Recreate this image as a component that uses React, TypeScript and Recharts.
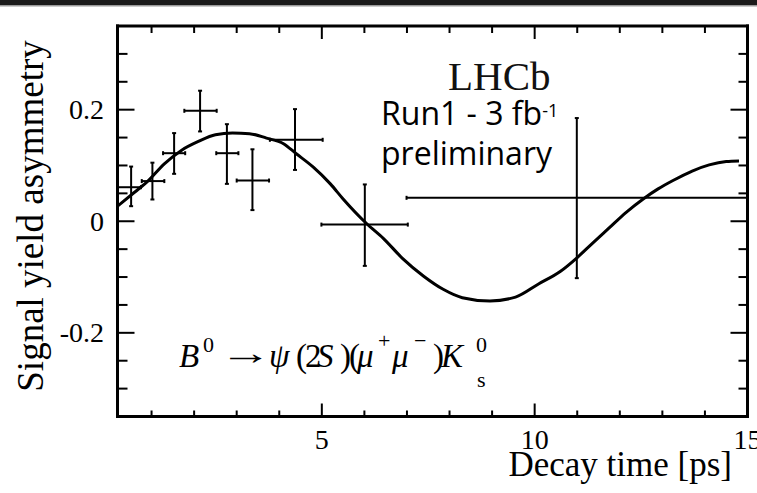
import React from 'react';
import { ComposedChart, Line, Scatter, ErrorBar, XAxis, YAxis, Customized } from 'recharts';

// binned asymmetry points
const pointT = [0.52, 1.02, 1.53, 2.14, 2.77, 3.37, 4.37, 6.01, 10.99];
const pointV = [0.061, 0.072, 0.122, 0.198, 0.122, 0.073, 0.146, -0.006, 0.042];
const pointTErr = [[0.32, 0.23], [0.25, 0.28], [0.26, 0.26], [0.37, 0.39], [0.25, 0.27], [0.37, 0.39], [0.59, 0.65], [1.02, 1.01], [4.0, 4.01]];
const pointVErr = [[0.034, 0.037], [0.033, 0.033], [0.037, 0.036], [0.037, 0.036], [0.055, 0.052], [0.053, 0.056], [0.054, 0.055], [0.074, 0.072], [0.144, 0.143]];

// fitted curve
const curveT = [0.2, 0.6, 0.9, 1.3, 1.7, 2.1, 2.5, 2.9, 3.3, 3.7, 4.1, 4.4, 4.8, 5.2, 5.5, 6.05, 6.45, 6.9, 7.4, 7.85, 8.3, 8.95, 9.55, 10.1, 10.6, 11.0, 11.35, 11.75, 12.15, 12.55, 12.9, 13.25, 13.7, 14.1, 14.5, 14.8];
const curveV = [0.027, 0.052, 0.071, 0.103, 0.127, 0.143, 0.155, 0.158, 0.157, 0.149, 0.139, 0.121, 0.097, 0.067, 0.04, -0.004, -0.031, -0.067, -0.099, -0.122, -0.137, -0.143, -0.136, -0.112, -0.09, -0.065, -0.04, -0.012, 0.016, 0.04, 0.058, 0.073, 0.09, 0.101, 0.107, 0.108];

const xTicks = [1, 2, 3, 4, 5, 6, 7, 8, 9, 10, 11, 12, 13, 14, 15];
const xMajor = [5, 10, 15];
const yTicks = [-0.3, -0.25, -0.2, -0.15, -0.1, -0.05, 0, 0.05, 0.1, 0.15, 0.2, 0.25, 0.3];
const yMajor = [-0.2, 0, 0.2];

const points = pointT.map((t, i) => ({ t, v: pointV[i], te: pointTErr[i], ve: pointVErr[i] }));
const curve = curveT.map((t, i) => ({ t, v: curveV[i] }));

const W = 757;
const H = 493;
const MARGIN = { top: 26, right: 9.5, bottom: 0, left: 0 };
const PLOT_TOP = MARGIN.top;
const PLOT_RIGHT = W - MARGIN.right;

const X_DOMAIN: [number, number] = [0.2, 15];
const Y_DOMAIN: [number, number] = [-0.35, 0.35];
const SERIF = '"Liberation Serif", "Times New Roman", serif';
const SANS = '"Open Sans", sans-serif';
const frame = { stroke: '#000', strokeWidth: 3, strokeLinecap: 'square' as const };

const isMajor = (list: number[], v: number) => list.some((m) => Math.abs(m - v) < 1e-9);

// bottom axis tick: draws inward ticks at bottom and top, plus the label
const XTick = ({ x, y, payload }: any) => {
  const major = isMajor(xMajor, payload.value);
  return (
    <g>
      <line x1={x} x2={x} y1={y} y2={y - (major ? 13 : 6)} stroke="#000" strokeWidth={2} />
      <line x1={x} x2={x} y1={PLOT_TOP} y2={PLOT_TOP + (major ? 13 : 7)} stroke="#000" strokeWidth={2} />
      {major && (
        <text x={x} y={y + 32} textAnchor="middle" fontSize={28} fontFamily={SERIF} fill="#000">
          {payload.value}
        </text>
      )}
    </g>
  );
};

// left axis tick: draws inward ticks at left and right, plus the label
const YTick = ({ x, y, payload }: any) => {
  const major = isMajor(yMajor, payload.value);
  return (
    <g>
      <line x1={x} x2={x + (major ? 17 : 10)} y1={y} y2={y} stroke="#000" strokeWidth={2} />
      <line x1={PLOT_RIGHT} x2={PLOT_RIGHT - (major ? 17 : 9)} y1={y} y2={y} stroke="#000" strokeWidth={2} />
      {major && (
        <text x={x - 13.5} y={y + 9.5} textAnchor="end" fontSize={28} fontFamily={SERIF} fill="#000">
          {Math.abs(payload.value) < 1e-9 ? '0' : payload.value.toFixed(1)}
        </text>
      )}
    </g>
  );
};

const Overlay = () => (
  <g>
    <rect x={0} y={0} width={W} height={5} fill="#1b1b1b" />
    <rect x={0} y={5} width={W} height={1.5} fill="#9a9a9a" />
    <text x={448} y={90} fontFamily={SERIF} fontSize={41} fill="#111">LHCb</text>
    <text x={381} y={125} fontFamily={SANS} fontSize={32} fill="#000">
      Run1 - 3 fb<tspan fontSize={18} dy={-8}>-1</tspan>
    </text>
    <text x={381} y={165} fontFamily={SANS} fontSize={32} fill="#000">preliminary</text>
    <text fontFamily={SERIF} fontSize={33} fill="#000">
      <tspan x={179} y={367} fontStyle="italic">B</tspan>
      <tspan x={203} y={352} fontSize={22}>0</tspan>
      <tspan x={269} y={367} fontStyle="italic">ψ</tspan>
      <tspan x={296} y={367}>(</tspan>
      <tspan x={305} y={367}>2</tspan>
      <tspan x={317} y={367} fontStyle="italic">S</tspan>
      <tspan x={340} y={367}>)</tspan>
      <tspan x={349} y={367}>(</tspan>
      <tspan x={357} y={367} fontStyle="italic">μ</tspan>
      <tspan x={378} y={348} fontSize={22}>+</tspan>
      <tspan x={392} y={367} fontStyle="italic">μ</tspan>
      <tspan x={414} y={348} fontSize={22}>−</tspan>
      <tspan x={433} y={367}>)</tspan>
      <tspan x={441} y={367} fontStyle="italic">K</tspan>
      <tspan x={476} y={352} fontSize={22}>0</tspan>
      <tspan x={477} y={387} fontSize={22}>s</tspan>
    </text>
    <text transform="translate(219,364) scale(1.6,1)" fontFamily={SERIF} fontSize={33} fill="#000">→</text>
    <text x={732} y={476} textAnchor="end" fontFamily={SERIF} fontSize={35} fill="#000">Decay time [ps]</text>
    <text
      x={0}
      y={0}
      transform="translate(43,216) rotate(-90)"
      textAnchor="middle"
      fontFamily={SERIF}
      fontSize={37}
      fill="#000"
    >
      Signal yield asymmetry
    </text>
  </g>
);

export default function App() {
  return (
    <div style={{ position: 'absolute', left: 0, top: 0, width: W, height: H, background: '#fff' }}>
      <ComposedChart width={W} height={H} margin={MARGIN}>
        <XAxis
          xAxisId="x"
          dataKey="t"
          type="number"
          domain={X_DOMAIN}
          allowDataOverflow
          ticks={xTicks}
          interval={0}
          height={76.5}
          tickLine={false}
          tickSize={0}
          tickMargin={0}
          axisLine={frame}
          tick={<XTick />}
        />
        <XAxis xAxisId="xt" orientation="top" mirror height={1} type="number" domain={X_DOMAIN} allowDataOverflow tick={false} tickLine={false} axisLine={frame} />
        <YAxis
          yAxisId="y"
          type="number"
          domain={Y_DOMAIN}
          allowDataOverflow
          ticks={yTicks}
          interval={0}
          width={117.5}
          tickLine={false}
          tickSize={0}
          tickMargin={0}
          axisLine={frame}
          tick={<YTick />}
        />
        <YAxis yAxisId="yr" orientation="right" mirror width={1} type="number" domain={Y_DOMAIN} allowDataOverflow tick={false} tickLine={false} axisLine={frame} />
        <Line
          xAxisId="x"
          yAxisId="y"
          data={curve}
          dataKey="v"
          type="monotone"
          dot={false}
          stroke="#000"
          strokeWidth={3}
          isAnimationActive={false}
        />
        <Scatter
          xAxisId="x"
          yAxisId="y"
          data={points}
          dataKey="v"
          shape={() => <g />}
          isAnimationActive={false}
        >
          <ErrorBar dataKey="te" direction="x" width={2} stroke="#000" strokeWidth={2} isAnimationActive={false} />
          <ErrorBar dataKey="ve" direction="y" width={2} stroke="#000" strokeWidth={2} isAnimationActive={false} />
        </Scatter>
        <Customized component={Overlay} />
      </ComposedChart>
    </div>
  );
}
